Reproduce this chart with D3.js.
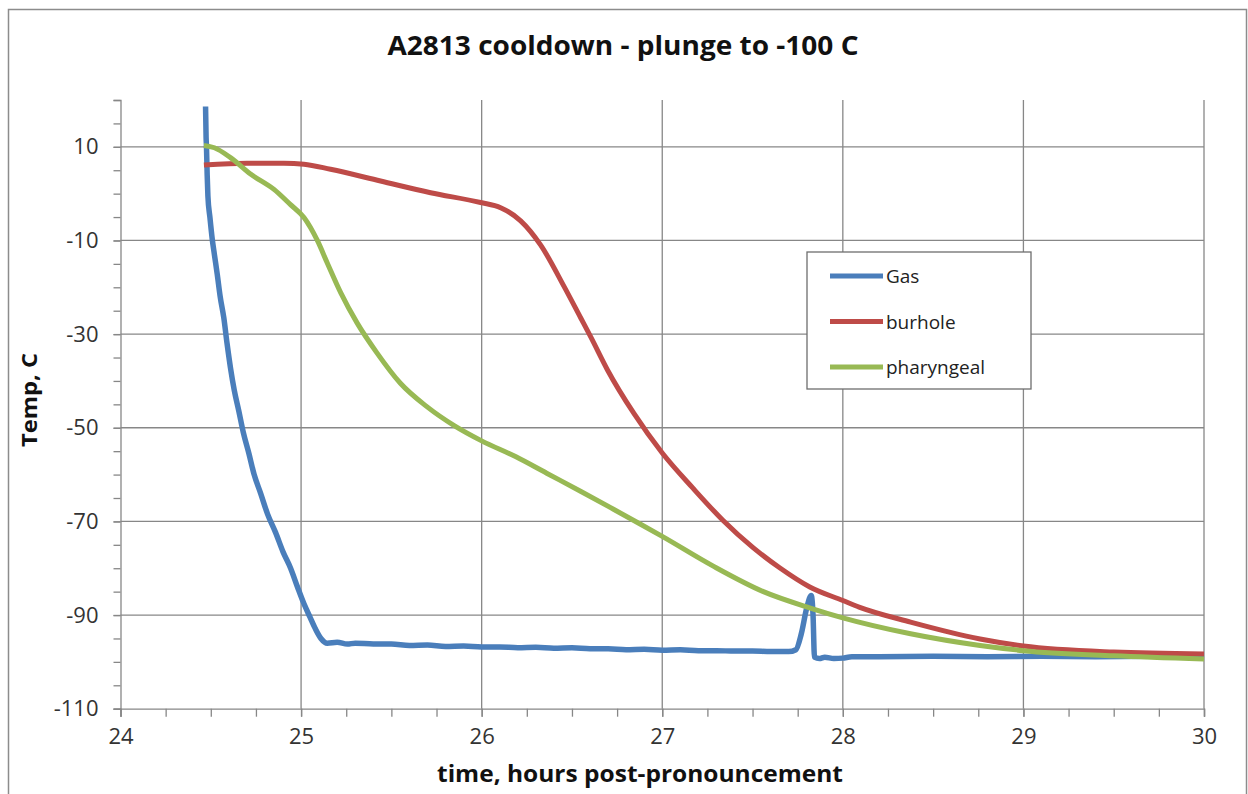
<!DOCTYPE html>
<html>
<head>
<meta charset="utf-8">
<script src="https://cdn.jsdelivr.net/npm/d3@7"></script>
<style>
  body { margin: 0; background: #fff; }
  svg { display: block; font-family: "Open Sans", "Noto Sans", sans-serif; }
</style>
</head>
<body>
<div id="chart"></div>
<script>
// series
var gasHours = [24.471, 24.474, 24.476, 24.480, 24.484, 24.495, 24.508, 24.520, 24.536, 24.552,
  24.572, 24.590, 24.609, 24.630, 24.655, 24.680, 24.711, 24.740, 24.776, 24.815,
  24.859, 24.900, 24.942, 24.980, 25.016, 25.050, 25.080, 25.110, 25.145, 25.200,
  25.256, 25.30, 25.40, 25.50, 25.60, 25.70, 25.80, 25.90, 26.00, 26.10,
  26.20, 26.30, 26.40, 26.50, 26.60, 26.70, 26.80, 26.90, 27.00, 27.10,
  27.20, 27.30, 27.40, 27.50, 27.60, 27.70, 27.74, 27.77, 27.80, 27.825,
  27.835, 27.843, 27.87, 27.90, 27.95, 28.00, 28.05, 28.20, 28.50, 28.80,
  29.10, 29.40, 29.70, 30.00];
var gasTemps = [18.6, 12, 10.2, 4, -0.5, -5, -9.7, -13, -17.3, -22,
  -26.5, -32, -37.2, -42, -46.4, -51, -55.5, -60, -64, -68.5,
  -72.4, -76.5, -80, -84, -87.6, -90.5, -93, -95, -96.0, -95.8,
  -96.2, -96.0, -96.2, -96.2, -96.5, -96.4, -96.7, -96.6, -96.8, -96.8,
  -97.0, -96.9, -97.1, -97.0, -97.2, -97.2, -97.4, -97.3, -97.5, -97.4,
  -97.6, -97.6, -97.7, -97.7, -97.8, -97.8, -97.4, -94, -88.5, -85.8,
  -90, -99, -99.3, -99.0, -99.3, -99.2, -98.9, -98.9, -98.8, -98.9,
  -98.8, -98.9, -98.8, -98.8];

var burholeHours = [24.462, 24.70, 24.905, 25.016, 25.163, 25.44, 25.717, 25.994, 26.105, 26.216,
  26.327, 26.456, 26.548, 26.604, 26.696, 26.844, 27.00, 27.17, 27.337, 27.503,
  27.65, 27.817, 28.00, 28.09, 28.375, 28.76, 29.00, 29.50, 30.00];
var burholeTemps = [6.1, 6.5, 6.5, 6.3, 5.2, 2.7, 0.2, -1.9, -3.0, -5.8,
  -11.0, -19.8, -26.5, -30.6, -37.6, -47.0, -55.4, -62.9, -69.8, -75.6,
  -79.9, -84, -86.9, -88.3, -91.5, -95.1, -96.6, -97.9, -98.3];

var pharyngealHours = [24.462, 24.52, 24.609, 24.72, 24.85, 24.94, 25.016, 25.09, 25.145, 25.22,
  25.31, 25.42, 25.55, 25.70, 25.85, 26.00, 26.19, 26.36, 26.55, 26.73,
  26.88, 27.00, 27.28, 27.56, 27.82, 28.00, 28.375, 28.76, 29.00, 29.50, 30.00];
var pharyngealTemps = [10.3, 9.8, 7.7, 4.2, 0.9, -2.3, -5.1, -10.0, -14.8, -21.2,
  -27.6, -34.0, -40.5, -45.6, -49.6, -52.8, -56.2, -59.7, -63.6, -67.4,
  -70.6, -73.2, -79.5, -85.0, -88.5, -90.6, -94, -96.5, -97.6, -98.7, -99.4];

var seriesNames = ['Gas', 'burhole', 'pharyngeal'];
var seriesColors = ['#4a7ebb', '#be4b48', '#98b954'];
var xTicks = [24, 25, 26, 27, 28, 29, 30];
var yTicks = [-110, -90, -70, -50, -30, -10, 10];

var W = 1248, H = 794;

var svg = d3.select('#chart').append('svg')
  .attr('width', W)
  .attr('height', H);

// outer chart frame
svg.append('rect')
  .attr('x', 8.5).attr('y', 9.5)
  .attr('width', 1238).attr('height', 800)
  .attr('fill', '#fff')
  .attr('stroke', '#8c8c8c')
  .attr('stroke-width', 1.5);

var x = d3.scaleLinear().domain([24, 30]).range([120.5, 1204]);
var y = d3.scaleLinear().domain([-110, 20]).range([708.7, 100]);

var gridColor = '#878787';
var g = svg.append('g');

// gridlines
g.append('g')
  .selectAll('line')
  .data(yTicks.filter(function (d) { return d > -110; }))
  .join('line')
  .attr('x1', x(24)).attr('x2', x(30))
  .attr('y1', function (d) { return y(d); })
  .attr('y2', function (d) { return y(d); })
  .attr('stroke', gridColor).attr('stroke-width', 1.3);

g.append('g')
  .selectAll('line')
  .data(xTicks.filter(function (d) { return d > 24; }))
  .join('line')
  .attr('x1', function (d) { return x(d); })
  .attr('x2', function (d) { return x(d); })
  .attr('y1', y(20)).attr('y2', y(-110))
  .attr('stroke', gridColor).attr('stroke-width', 1.3);

// axes: major ticks with labels, minor ticks without
var yMinor = d3.range(-110, 20.01, 5);
var xMinor = d3.range(24, 30.001, 0.25);
var plain = function (d) { return String(d); };

function styleAxis(a) {
  a.select('.domain').attr('stroke', gridColor).attr('stroke-width', 1.3);
  a.selectAll('.tick line').attr('stroke', gridColor).attr('stroke-width', 1.3);
  a.selectAll('text').attr('fill', '#333').style('font-size', '22px')
    .style('font-family', '"Open Sans", sans-serif');
}

g.append('g').attr('transform', 'translate(' + x(24) + ',0)')
  .call(d3.axisLeft(y).tickValues(yMinor).tickSize(7).tickFormat(''))
  .call(styleAxis);
g.append('g').attr('transform', 'translate(' + x(24) + ',0)')
  .call(d3.axisLeft(y).tickValues(yTicks).tickSize(7).tickPadding(15).tickFormat(plain))
  .call(styleAxis)
  .call(function (a) { a.select('.domain').remove(); });

g.append('g').attr('transform', 'translate(0,' + y(-110) + ')')
  .call(d3.axisBottom(x).tickValues(xMinor).tickSize(8).tickFormat(''))
  .call(styleAxis);
g.append('g').attr('transform', 'translate(0,' + y(-110) + ')')
  .call(d3.axisBottom(x).tickValues(xTicks).tickSize(8).tickPadding(12).tickFormat(plain))
  .call(styleAxis)
  .call(function (a) { a.select('.domain').remove(); });

// series
var series = [
  {hours: gasHours, temps: gasTemps, curve: d3.curveMonotoneX, width: 5.5},
  {hours: burholeHours, temps: burholeTemps, curve: d3.curveMonotoneX, width: 5},
  {hours: pharyngealHours, temps: pharyngealTemps, curve: d3.curveMonotoneX, width: 5}
];

series.forEach(function (s, i) {
  var pts = s.hours.map(function (h, k) { return [h, s.temps[k]]; });
  var line = d3.line()
    .x(function (d) { return x(d[0]); })
    .y(function (d) { return y(d[1]); })
    .curve(s.curve);
  svg.append('path')
    .datum(pts)
    .attr('d', line)
    .attr('fill', 'none')
    .attr('stroke', seriesColors[i])
    .attr('stroke-width', s.width)
    .attr('stroke-linejoin', 'round');
});

// legend
var leg = svg.append('g').attr('transform', 'translate(807,252)');
leg.append('rect')
  .attr('width', 224).attr('height', 137)
  .attr('fill', '#fff')
  .attr('stroke', '#6e6e6e').attr('stroke-width', 1.3);
seriesNames.forEach(function (name, i) {
  var cy = 24 + i * 45.5;
  leg.append('line')
    .attr('x1', 23).attr('x2', 76)
    .attr('y1', cy).attr('y2', cy)
    .attr('stroke', seriesColors[i]).attr('stroke-width', 5);
  leg.append('text')
    .attr('x', 79).attr('y', cy + 7)
    .attr('fill', '#222')
    .style('font-size', '19px')
    .text(name);
});

// titles
svg.append('text')
  .attr('x', 623).attr('y', 55)
  .attr('text-anchor', 'middle')
  .attr('fill', '#111')
  .style('font-size', '27px').style('font-weight', 'bold')
  .attr('textLength', 471).attr('lengthAdjust', 'spacingAndGlyphs')
  .text('A2813 cooldown - plunge to -100 C');

svg.append('text')
  .attr('x', 640).attr('y', 782)
  .attr('text-anchor', 'middle')
  .attr('fill', '#111')
  .style('font-size', '24px').style('font-weight', 'bold')
  .attr('textLength', 406).attr('lengthAdjust', 'spacingAndGlyphs')
  .text('time, hours post-pronouncement');

svg.append('text')
  .attr('transform', 'translate(37,400) rotate(-90)')
  .attr('text-anchor', 'middle')
  .attr('fill', '#111')
  .style('font-size', '21px').style('font-weight', 'bold')
  .attr('textLength', 94).attr('lengthAdjust', 'spacingAndGlyphs')
  .text('Temp, C');
</script>
</body>
</html>
